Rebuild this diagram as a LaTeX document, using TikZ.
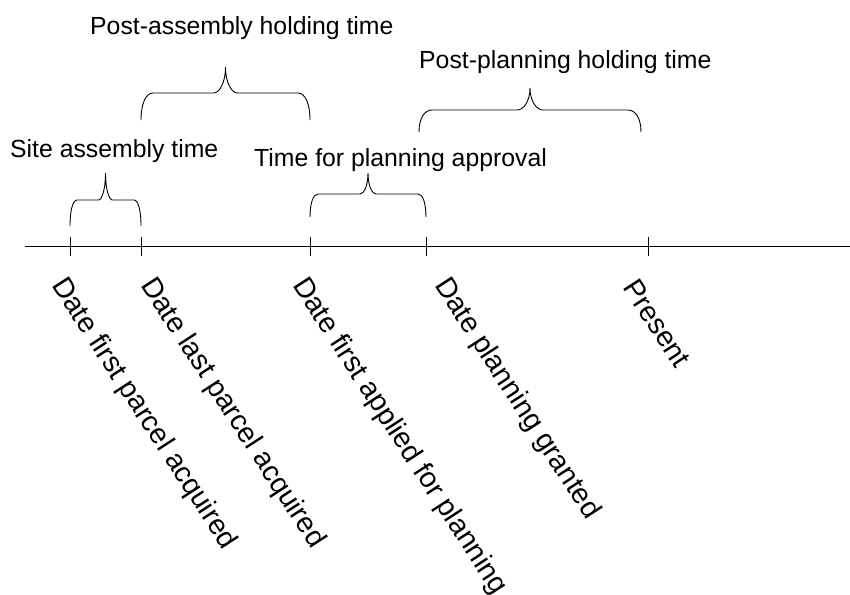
\documentclass[tikz,border=0pt]{standalone}
\usepackage{fontspec}
\setmainfont{Liberation Sans}

% curly brace over a stretch of the time line: x1, x2, y ends, y arms, y tip, bend
\newcommand{\spanbrace}[6]{%
  \pgfmathsetmacro{\bxm}{(#1+#2)/2}
  \pgfmathsetmacro{\bya}{#3-0.6*(#3-#4)}
  \pgfmathsetmacro{\byb}{#4-0.4*(#4-#5)}
  \draw[brace line] (#1,#3) .. controls (#1,\bya) and ({#1+0.4*#6},#4) .. ({#1+#6},#4)
    -- ({\bxm-#6},#4) .. controls ({\bxm-0.5*#6},#4) and (\bxm,\byb) .. (\bxm,#5)
    .. controls (\bxm,\byb) and ({\bxm+0.5*#6},#4) .. ({\bxm+#6},#4)
    -- ({#2-#6},#4) .. controls ({#2-0.4*#6},#4) and (#2,\bya) .. (#2,#3);
}

\begin{document}
\begin{tikzpicture}[
    x=1pt, y=-1pt,
    axis line/.style={line width=1.3pt},
    tick line/.style={line width=0.9pt},
    brace line/.style={line width=0.9pt},
    span/.style={anchor=base west, inner sep=0pt, font=\fontsize{24.8}{30}\selectfont},
    date/.style={anchor=base west, inner sep=0pt, rotate=-57, font=\fontsize{28.5}{34}\selectfont}
  ]
  \useasboundingbox (0,0) rectangle (850,594);

  % time line
  \coordinate (start) at (25,246.5);
  \coordinate (end) at (850,246.5);
  \draw[axis line] (start) -- (end);
  \foreach \x in {70,141,310,426,648}
    \draw[tick line] (\x,237) -- (\x,256);

  % events
  \node[date] (firstparcel) at (51,285) {Date first parcel acquired};
  \node[date] (lastparcel) at (140,285) {Date last parcel acquired};
  \node[date] (applied) at (292,285) {Date first applied for planning};
  \node[date] (granted) at (434,285) {Date planning granted};
  \node[date] (present) at (622,287) {Present};

  % durations
  \spanbrace{70}{141}{226}{200}{173}{7}
  \spanbrace{141}{310}{120}{93}{67}{12}
  \spanbrace{310}{426}{217}{194}{173}{8}
  \spanbrace{419}{641}{132}{110}{88}{13}

  \node[span] (assembly) at (10,157) {Site assembly time};
  \node[span] (postassembly) at (90,35) {Post-assembly holding time};
  \node[span] (approval) at (254,166) {Time for planning approval};
  \node[span] (postplanning) at (419,68) {Post-planning holding time};
\end{tikzpicture}
\end{document}
